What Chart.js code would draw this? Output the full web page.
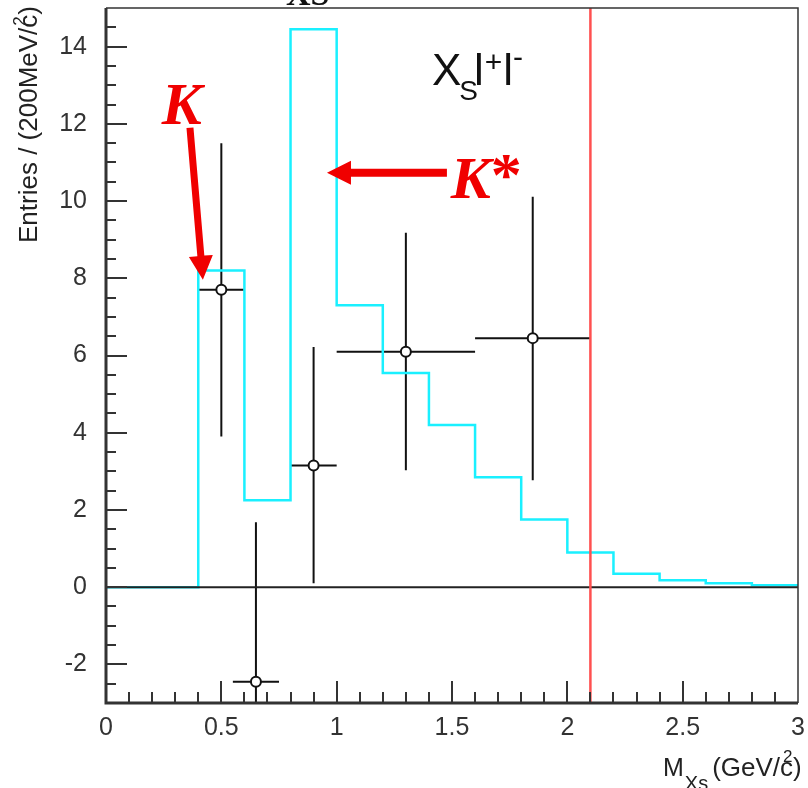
<!DOCTYPE html>
<html>
<head>
<meta charset="utf-8">
<script src="https://cdn.jsdelivr.net/npm/chart.js@4.4.0/dist/chart.umd.min.js"></script>
<style>
  html, body { margin: 0; padding: 0; background: #fff; }
  #wrap { width: 808px; height: 788px; }
</style>
</head>
<body>
<div id="wrap"><canvas id="myChart" width="808" height="788"></canvas></div>
<script>
// expected signal shape, 200 MeV bins (lower edges + last edge)
var binEdges = [0, 0.2, 0.4, 0.6, 0.8, 1.0, 1.2, 1.4, 1.6, 1.8, 2.0, 2.2, 2.4, 2.6, 2.8, 3.0];
var binValues = [0, 0, 8.2, 2.25, 14.45, 7.3, 5.55, 4.2, 2.85, 1.75, 0.9, 0.35, 0.18, 0.1, 0.05];

// measured yields with errors
var dataX = [0.5, 0.65, 0.9, 1.3, 1.85];
var dataY = [7.7, -2.45, 3.15, 6.1, 6.45];
var xLow = [0.4, 0.55, 0.8, 1.0, 1.6];
var xHigh = [0.6, 0.75, 1.0, 1.6, 2.1];
var yLow = [3.9, -6.6, 0.1, 3.03, 2.77];
var yHigh = [11.5, 1.68, 6.22, 9.18, 10.11];

var xTicks = [0, 0.5, 1, 1.5, 2, 2.5, 3];
var yTicks = [-2, 0, 2, 4, 6, 8, 10, 12, 14];
var massCut = 2.1;

var axisColor = "#333";
var fontSans = "'Liberation Sans', Arial, sans-serif";
var fontSerif = "'Liberation Serif', 'Times New Roman', serif";

var histPoints = [];
for (var i = 0; i < binValues.length; i++) {
  histPoints.push({ x: binEdges[i], y: binValues[i] });
}
histPoints.push({ x: binEdges[binEdges.length - 1], y: binValues[binValues.length - 1] });

var points = [];
dataX.forEach((x, i) => {
  points.push({ x: x, y: dataY[i] });
});

function drawArrow(ctx, x1, y1, x2, y2, shaft, headLen, headW) {
  var dx = x2 - x1, dy = y2 - y1;
  var len = Math.sqrt(dx * dx + dy * dy);
  var ux = dx / len, uy = dy / len;
  var nx = -uy, ny = ux;
  var bx = x2 - ux * headLen, by = y2 - uy * headLen;
  ctx.beginPath();
  ctx.moveTo(x1 + nx * shaft / 2, y1 + ny * shaft / 2);
  ctx.lineTo(bx + nx * shaft / 2, by + ny * shaft / 2);
  ctx.lineTo(bx + nx * headW / 2, by + ny * headW / 2);
  ctx.lineTo(x2, y2);
  ctx.lineTo(bx - nx * headW / 2, by - ny * headW / 2);
  ctx.lineTo(bx - nx * shaft / 2, by - ny * shaft / 2);
  ctx.lineTo(x1 - nx * shaft / 2, y1 - ny * shaft / 2);
  ctx.closePath();
  ctx.fill();
}

var plotDeco = {
  id: "plotDeco",
  beforeDatasetsDraw: function (chart) {
    var ctx = chart.ctx;
    var xs = chart.scales.x, ys = chart.scales.y;
    var a = chart.chartArea;
    ctx.save();
    ctx.beginPath();
    ctx.rect(a.left, a.top, a.right - a.left, a.bottom - a.top);
    ctx.clip();
    // error bars
    ctx.strokeStyle = "#111";
    ctx.lineWidth = 2;
    dataX.forEach((x, i) => {
      var px = xs.getPixelForValue(x), py = ys.getPixelForValue(dataY[i]);
      ctx.beginPath();
      ctx.moveTo(xs.getPixelForValue(xLow[i]), py);
      ctx.lineTo(xs.getPixelForValue(xHigh[i]), py);
      ctx.moveTo(px, ys.getPixelForValue(yLow[i]));
      ctx.lineTo(px, ys.getPixelForValue(yHigh[i]));
      ctx.stroke();
    });
    ctx.restore();
  },
  afterDatasetsDraw: function (chart) {
    var ctx = chart.ctx;
    var xs = chart.scales.x, ys = chart.scales.y;
    var a = chart.chartArea;
    ctx.save();

    // zero line
    ctx.strokeStyle = "#222";
    ctx.lineWidth = 2;
    ctx.beginPath();
    ctx.moveTo(a.left, ys.getPixelForValue(0));
    ctx.lineTo(a.right, ys.getPixelForValue(0));
    ctx.stroke();

    // cut line
    ctx.strokeStyle = "#ff5050";
    ctx.lineWidth = 2.5;
    ctx.beginPath();
    ctx.moveTo(xs.getPixelForValue(massCut), a.top);
    ctx.lineTo(xs.getPixelForValue(massCut), a.bottom);
    ctx.stroke();

    // frame
    ctx.strokeStyle = axisColor;
    ctx.lineWidth = 1.5;
    ctx.beginPath();
    ctx.moveTo(a.left, a.top);
    ctx.lineTo(a.right, a.top);
    ctx.lineTo(a.right, a.bottom);
    ctx.stroke();
    ctx.lineWidth = 3;
    ctx.beginPath();
    ctx.moveTo(a.left, a.top);
    ctx.lineTo(a.left, a.bottom);
    ctx.lineTo(a.right, a.bottom);
    ctx.stroke();

    // inward ticks
    ctx.lineWidth = 2;
    ctx.beginPath();
    for (var v = -3; v <= 15.001; v += 0.5) {
      var py = Math.round(ys.getPixelForValue(v));
      if (py <= a.top + 1 || py >= a.bottom - 1) continue;
      var major = Math.abs(v / 2 - Math.round(v / 2)) < 0.001;
      ctx.moveTo(a.left, py);
      ctx.lineTo(a.left + (major ? 21 : 10), py);
    }
    for (var k = 1; k < 30; k++) {
      var px = Math.round(xs.getPixelForValue(k * 0.1));
      var big = k % 5 === 0;
      ctx.moveTo(px, a.bottom);
      ctx.lineTo(px, a.bottom - (big ? 22 : 11));
    }
    ctx.stroke();

    // annotations
    ctx.fillStyle = "#f00000";
    ctx.font = "bold italic 60px " + fontSerif;
    ctx.textBaseline = "alphabetic";
    ctx.textAlign = "left";
    ctx.fillText("K", xs.getPixelForValue(0.242), ys.getPixelForValue(12.0));
    drawArrow(ctx, xs.getPixelForValue(0.364), ys.getPixelForValue(11.9),
      xs.getPixelForValue(0.42), ys.getPixelForValue(7.96), 7, 24, 24);

    var kx = xs.getPixelForValue(1.495), ky = ys.getPixelForValue(10.08);
    ctx.fillText("K", kx, ky);
    var kw = ctx.measureText("K").width;
    ctx.font = "bold 62px " + fontSerif;
    ctx.fillText("*", kx + kw, ky - 3);
    drawArrow(ctx, xs.getPixelForValue(1.478), ys.getPixelForValue(10.73),
      xs.getPixelForValue(0.958), ys.getPixelForValue(10.73), 8, 24, 24);

    // process label
    ctx.fillStyle = "#111";
    var tx = xs.getPixelForValue(1.413), ty = ys.getPixelForValue(13.0);
    ctx.font = "44px " + fontSans;
    ctx.fillText("X", tx, ty);
    tx += ctx.measureText("X").width - 2;
    ctx.font = "28px " + fontSans;
    ctx.fillText("S", tx, ty + 15);
    tx += ctx.measureText("S").width - 4;
    ctx.font = "44px " + fontSans;
    ctx.fillText("l", tx, ty);
    tx += ctx.measureText("l").width + 1;
    ctx.font = "30px " + fontSans;
    ctx.fillText("+", tx, ty - 13);
    tx += ctx.measureText("+").width + 1;
    ctx.font = "44px " + fontSans;
    ctx.fillText("l", tx, ty);
    tx += ctx.measureText("l").width;
    ctx.font = "30px " + fontSans;
    ctx.fillText("-", tx, ty - 18);

    // cut-off title above frame
    ctx.font = "bold 34px " + fontSerif;
    ctx.fillText("XS", xs.getPixelForValue(0.78), 5);

    // y axis title
    ctx.fillStyle = "#222";
    ctx.save();
    ctx.translate(37, 243);
    ctx.rotate(-Math.PI / 2);
    ctx.font = "26px " + fontSans;
    var yt = "Entries / (200MeV/";
    ctx.fillText(yt + "c)", 0, 0);
    var w1 = ctx.measureText(yt).width;
    ctx.font = "17px " + fontSans;
    ctx.fillText("2", w1 + 2, -12);
    ctx.restore();

    // x axis title
    var mx = 663, my = 776;
    ctx.font = "25px " + fontSans;
    ctx.fillText("M", mx, my);
    mx += ctx.measureText("M").width + 1;
    ctx.font = "20px " + fontSans;
    ctx.fillText("Xs", mx, my + 14);
    mx += ctx.measureText("Xs").width + 4;
    ctx.font = "26px " + fontSans;
    var xt = "(GeV/";
    ctx.fillText(xt + "c)", mx, my);
    var w2 = ctx.measureText(xt).width;
    ctx.font = "17px " + fontSans;
    ctx.fillText("2", mx + w2 + 3, my - 14);

    ctx.restore();
  },
};

var ctx = document.getElementById("myChart");

new Chart(ctx, {
  type: "scatter",
  data: {
    datasets: [
      {
        type: "line",
        label: "Signal MC",
        data: histPoints,
        stepped: true,
        borderColor: "#1af0ff",
        borderWidth: 2.5,
        pointRadius: 0,
        fill: false,
        order: 2,
      },
      {
        type: "scatter",
        label: "Data",
        data: points,
        pointStyle: "circle",
        pointRadius: 5,
        pointBackgroundColor: "#ffffff",
        pointBorderColor: "#111",
        pointBorderWidth: 2,
        order: 1,
      },
    ],
  },
  options: {
    responsive: false,
    animation: false,
    layout: {
      padding: { top: 8, right: 10, left: 0, bottom: 0 },
    },
    plugins: {
      legend: { display: false },
      tooltip: { enabled: false },
    },
    scales: {
      x: {
        type: "linear",
        min: 0,
        max: 3,
        afterBuildTicks: function (scale) {
          scale.ticks = xTicks.map((v) => ({ value: v }));
        },
        afterFit: function (scale) {
          scale.height = 85;
          scale.paddingLeft = 0;
          scale.paddingRight = 0;
        },
        grid: { display: false, drawTicks: false },
        border: { display: false },
        ticks: {
          font: { family: fontSans, size: 25 },
          color: axisColor,
          padding: 10,
          maxRotation: 0,
          autoSkip: false,
          callback: function (value) {
            return String(value);
          },
        },
      },
      y: {
        type: "linear",
        min: -3,
        max: 15,
        afterBuildTicks: function (scale) {
          scale.ticks = yTicks.map((v) => ({ value: v }));
        },
        afterFit: function (scale) {
          scale.width = 106;
          scale.paddingTop = 0;
          scale.paddingBottom = 0;
        },
        grid: { display: false, drawTicks: false },
        border: { display: false },
        ticks: {
          font: { family: fontSans, size: 25 },
          color: axisColor,
          padding: 19,
          autoSkip: false,
          callback: function (value) {
            return String(value);
          },
        },
      },
    },
  },
  plugins: [plotDeco],
});
</script>
</body>
</html>
